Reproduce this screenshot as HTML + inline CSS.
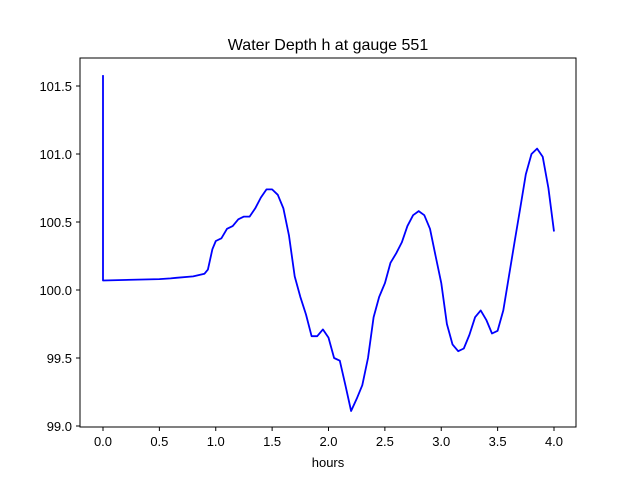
<!DOCTYPE html>
<html><head><meta charset="utf-8"><style>body{margin:0;background:#fff}svg{display:block;font-family:"Liberation Sans",sans-serif}</style></head>
<body>
<svg id="chart" width="640" height="480">
<rect width="640" height="480" fill="#fff"/>
<text x="328" y="50" text-anchor="middle" font-size="16">Water Depth h at gauge 551</text>
<g id="xt"></g><g id="yt"></g>
<path id="line" fill="none" stroke="#0000ff" stroke-width="1.8" stroke-linejoin="round"/>
<rect x="80" y="58" width="496" height="369" fill="none" stroke="#000" stroke-width="1"/>
<text x="328" y="467" text-anchor="middle" font-size="13">hours</text>
</svg>
<script>
const hours=[0,0,0.5,0.6,0.65,0.8,0.9,0.93,0.97,1.0,1.05,1.1,1.15,1.2,1.25,1.3,1.35,1.4,1.45,1.5,1.55,1.6,1.65,1.7,1.75,1.8,1.85,1.9,1.95,2.0,2.05,2.1,2.15,2.2,2.25,2.3,2.35,2.4,2.45,2.5,2.55,2.6,2.65,2.7,2.75,2.8,2.85,2.9,2.95,3.0,3.05,3.1,3.15,3.2,3.25,3.3,3.35,3.4,3.45,3.5,3.55,3.6,3.65,3.7,3.75,3.8,3.85,3.9,3.95,4.0];
const depth=[101.58,100.07,100.08,100.085,100.09,100.1,100.12,100.15,100.3,100.36,100.38,100.45,100.47,100.52,100.54,100.54,100.6,100.68,100.74,100.74,100.7,100.6,100.4,100.1,99.95,99.82,99.66,99.66,99.71,99.65,99.5,99.48,99.3,99.11,99.2,99.3,99.5,99.8,99.95,100.05,100.2,100.27,100.35,100.47,100.55,100.58,100.55,100.45,100.25,100.05,99.75,99.6,99.55,99.57,99.67,99.8,99.85,99.78,99.68,99.7,99.85,100.1,100.35,100.6,100.85,101.0,101.04,100.98,100.75,100.43];
const xTicks=[0,0.5,1,1.5,2,2.5,3,3.5,4];
const yTicks=[99.0,99.5,100.0,100.5,101.0,101.5];
const X=h=>103+h*112.75;
const Y=v=>290-(v-100)*136;
const NS="http://www.w3.org/2000/svg";
let d="";hours.forEach((h,i)=>{d+=(i?"L":"M")+X(h).toFixed(1)+","+Y(depth[i]).toFixed(1);});
document.getElementById("line").setAttribute("d",d);
const xt=document.getElementById("xt"),yt=document.getElementById("yt");
xTicks.forEach(t=>{
 const l=document.createElementNS(NS,"line");
 
 
 l.setAttribute("x1",X(t));l.setAttribute("x2",X(t));l.setAttribute("y1",427);l.setAttribute("y2",431);l.setAttribute("stroke","#000");xt.appendChild(l);
 const s=document.createElementNS(NS,"text");
 
 
 s.setAttribute("x",X(t));s.setAttribute("y",446);s.setAttribute("text-anchor","middle");s.setAttribute("font-size","13");s.textContent=t.toFixed(1);xt.appendChild(s);
});
yTicks.forEach(t=>{
 const l=document.createElementNS(NS,"line");
 
 
 l.setAttribute("x1",76);l.setAttribute("x2",80);l.setAttribute("y1",Y(t));l.setAttribute("y2",Y(t));l.setAttribute("stroke","#000");yt.appendChild(l);
 const s=document.createElementNS(NS,"text");
 
 
 s.setAttribute("x",72);s.setAttribute("y",Y(t)+5);s.setAttribute("text-anchor","end");s.setAttribute("font-size","13");s.textContent=t.toFixed(1);yt.appendChild(s);
});
</script>
</body></html>
